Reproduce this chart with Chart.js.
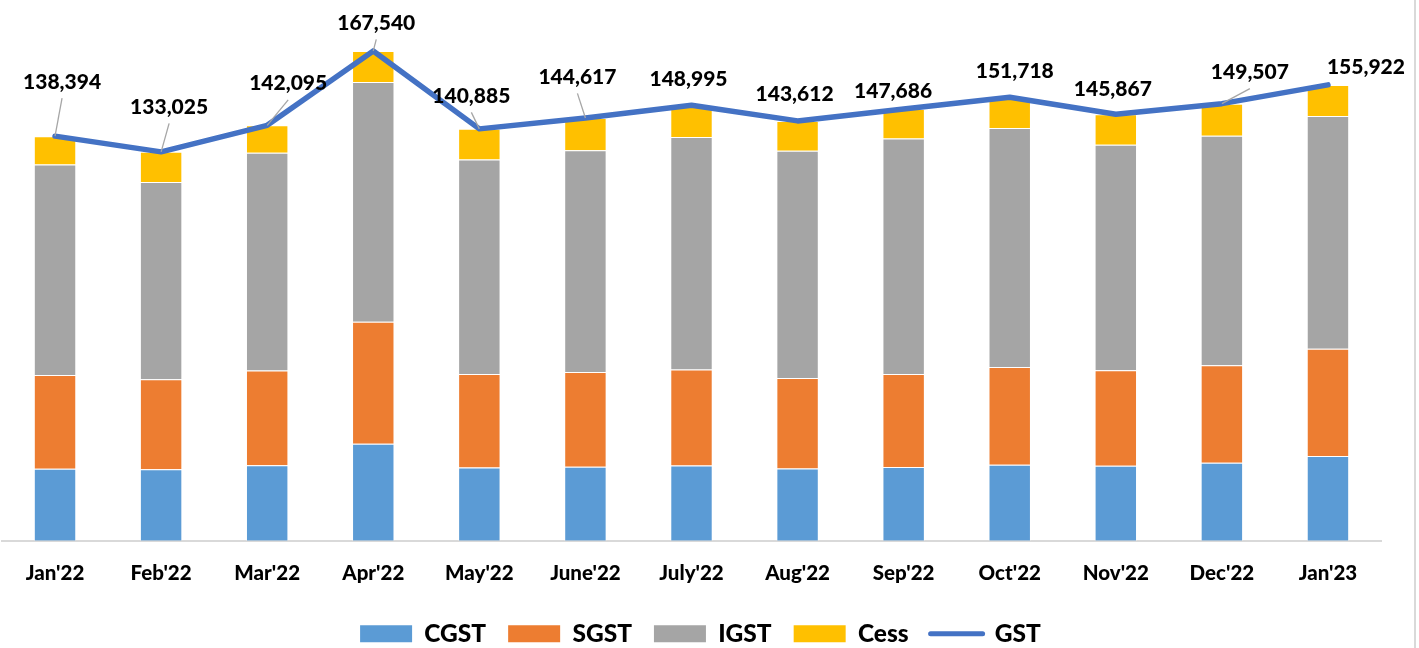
<!DOCTYPE html>
<html><head><meta charset="utf-8">
<script src="https://cdn.jsdelivr.net/npm/chart.js@4"></script>
<style>
html,body{margin:0;padding:0;background:#fff;overflow:hidden;}
#wrap{position:relative;width:1419px;height:648px;}
#frame{position:absolute;left:1414px;top:0;width:2px;height:648px;background:#d9d9d9;}
canvas{display:block;}
</style></head><body>
<div id="wrap"><canvas id="c" width="1419" height="648"></canvas><div id="frame"></div></div>
<script>
const categories = ["Jan'22","Feb'22","Mar'22","Apr'22","May'22","June'22","July'22","Aug'22","Sep'22","Oct'22","Nov'22","Dec'22","Jan'23"];
const cgst = [24674,24435,25830,33159,25036,25306,25751,24710,25271,26039,25681,26711,28963];
const sgst = [32016,30779,32378,41793,32001,32406,32807,30951,31813,33396,32651,33357,36730];
const igst = [72030,67471,74470,81939,73345,75887,79518,77782,80464,81778,77103,78434,79599];
const cess = [9674,10340,9417,10649,10503,11018,10919,10169,10138,10505,10432,11005,10630];
const gst  = [138394,133025,142095,167540,140885,144617,148995,143612,147686,151718,145867,149507,155922];

// label placement styles (offset of label centre from its point, and whether a leader line is drawn)
const labelStyle = {
  dx: [7, 8, 21, 3, -8, -8, -3, -3, -10.6, 5, -3, 28, 38],
  dy: [-55, -45.5, -42.5, -28.5, -33.5, -41.6, -27, -27, -18, -27, -26, -32, -18],
  leader: [1,1,1,1,1,1,0,0,0,0,0,1,0]
};

const FONT = 'Lato';
const WEIGHT = '900';

const labelPlugin = {
  id: 'gstLabels',
  afterLayout(chart) {
    if (chart.legend) { chart.legend.left += 9; chart.legend.right += 9; }
  },
  afterDraw(chart) {
    const meta = chart.getDatasetMeta(4);
    const ctx = chart.ctx;
    ctx.save();
    ctx.font = WEIGHT + ' 21px ' + FONT;
    ctx.textAlign = 'center';
    ctx.textBaseline = 'alphabetic';
    meta.data.forEach((pt, i) => {
      const lx = pt.x + labelStyle.dx[i];
      const ly = pt.y + labelStyle.dy[i];
      if (labelStyle.leader[i]) {
        ctx.strokeStyle = '#a6a6a6';
        ctx.lineWidth = 1.3;
        ctx.beginPath();
        ctx.moveTo(lx, ly + 17);
        ctx.lineTo(pt.x, pt.y);
        ctx.stroke();
      }
      ctx.fillStyle = '#000';
      ctx.fillText(gst[i].toLocaleString('en-US'), lx, ly + 7.5);
    });
    ctx.restore();
  }
};

const barBorder = 'rgba(255,255,255,0.55)';
new Chart(document.getElementById('c'), {
  data: {
    labels: categories,
    datasets: [
      {type:'bar', label:'CGST', data:cgst, backgroundColor:'#5B9BD5', borderColor:barBorder, borderWidth:1, stack:'gst'},
      {type:'bar', label:'SGST', data:sgst, backgroundColor:'#ED7D31', borderColor:barBorder, borderWidth:1, stack:'gst'},
      {type:'bar', label:'IGST', data:igst, backgroundColor:'#A5A5A5', borderColor:barBorder, borderWidth:1, stack:'gst'},
      {type:'bar', label:'Cess', data:cess, backgroundColor:'#FFC000', borderColor:barBorder, borderWidth:1, stack:'gst'},
      {type:'line', label:'GST', data:gst, borderColor:'#4472C4', backgroundColor:'#4472C4', borderWidth:5.5,
       pointRadius:0, pointHoverRadius:0, tension:0, borderJoinStyle:'round', borderCapStyle:'round',
       fill:false, stack:'total', order:-1}
    ]
  },
  options: {
    responsive:false, animation:false, devicePixelRatio:1, events:[],
    layout:{padding:{left:2, right:38, top:14.5, bottom:-8}},
    datasets:{bar:{barPercentage:0.4, categoryPercentage:1.0}},
    scales:{
      x:{stacked:true, grid:{display:false, drawTicks:false},
         border:{display:true, color:'#d9d9d9', width:2},
         ticks:{color:'#000', font:{family:FONT, size:20.5, weight:WEIGHT}, padding:20.5, maxRotation:0, autoSkip:false},
         afterFit(scale){ scale.height = 58.7; }},
      y:{stacked:true, display:false, min:0, max:180000}
    },
    plugins:{
      tooltip:{enabled:false},
      legend:{
        position:'bottom',
        labels:{
          usePointStyle:true, pointStyleWidth:52, boxHeight:17, padding:22, color:'#000',
          font:{family:FONT, size:24.5, weight:WEIGHT},
          sort:(a,b)=>a.datasetIndex-b.datasetIndex,
          generateLabels(chart){
            const items = Chart.defaults.plugins.legend.labels.generateLabels(chart);
            items.forEach(it=>{
              const ds = chart.data.datasets[it.datasetIndex];
              if (ds.type==='line'){ it.pointStyle='line'; it.lineWidth=5; it.strokeStyle=ds.borderColor; it.lineCap='round'; }
              else { it.pointStyle='rect'; it.lineWidth=0; it.fillStyle=ds.backgroundColor; it.strokeStyle=ds.backgroundColor; }
            });
            return items;
          }
        }
      }
    }
  },
  plugins:[labelPlugin]
});
</script>
</body></html>
